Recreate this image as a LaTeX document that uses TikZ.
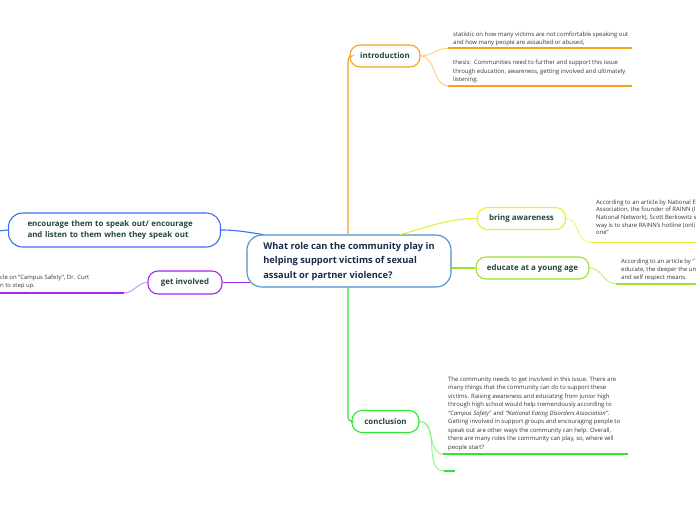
\documentclass[tikz,border=0pt]{standalone}
\usepackage{fontspec}
\setmainfont{Open Sans}
\usetikzlibrary{calc}
\definecolor{nodetxt}{HTML}{23473A}
\definecolor{ctrtxt}{HTML}{1B2A4A}
\definecolor{bodytxt}{HTML}{333333}
\definecolor{ctrblue}{HTML}{4A90D0}
\definecolor{corange}{HTML}{F5A21B}
\definecolor{corangel}{HTML}{FFCB7A}
\definecolor{cyellow}{HTML}{E6F032}
\definecolor{cyellowl}{HTML}{EFF57A}
\definecolor{cygreen}{HTML}{9BE22D}
\definecolor{cygreenl}{HTML}{BDF07A}
\definecolor{cgreen}{HTML}{2EE62E}
\definecolor{cgreenl}{HTML}{8AF28A}
\definecolor{cblue}{HTML}{3A6FF0}
\definecolor{cpurple}{HTML}{A526F0}
\definecolor{cpurplel}{HTML}{CF8AF5}
\tikzset{
  topic/.style={draw, line width=1.1pt, rounded corners=10pt, fill=white, inner sep=0pt,
    text=nodetxt, font=\fontsize{7.9}{11}\selectfont\bfseries, align=center},
  central/.style={draw=ctrblue, line width=1.1pt, rounded corners=15pt, fill=white, inner sep=0pt,
    text=ctrtxt, font=\fontsize{9.3}{14.3}\selectfont\bfseries},
  body/.style={anchor=north west, inner sep=0pt, text=bodytxt, align=left},
  bfont/.style={font=\fontsize{5.95}{#1}\selectfont},
  conn/.style={line width=1.1pt},
  subconn/.style={line width=0.9pt},
  uline/.style={line width=1.8pt},
}
\begin{document}
\begin{tikzpicture}[x=1pt,y=-1pt]
\useasboundingbox (0,0) rectangle (696,520);
\begin{scope}
\clip (0,0) rectangle (696,520);
% central
\node[central, minimum width=204pt, minimum height=52pt] (ctr) at (349,261)
  {\raisebox{-2.5pt}{\begin{tabular}{@{}l@{}}What role can the community play in\\helping support victims of sexual\\assault or partner violence?\end{tabular}}};
% topics
\node[topic, draw=corange, minimum width=70pt, minimum height=22pt] (intro) at (385,56) {introduction};
\node[topic, draw=cyellow, minimum width=88pt, minimum height=22pt] (bring) at (521.5,218.5) {bring awareness};
\node[topic, draw=cygreen, minimum width=113pt, minimum height=22pt] (edu) at (532.5,268) {educate at a young age};
\node[topic, draw=cblue, rounded corners=14pt, minimum width=212pt, minimum height=34pt, align=left, text width=174pt] (enc) at (114.5,230)
  {\raisebox{-1.8pt}{\begin{tabular}{@{}l@{}}encourage them to speak out/ encourage\\and listen to them when they speak out\end{tabular}}};
\node[topic, draw=cpurple, minimum width=74pt, minimum height=23pt] (inv) at (185,282.5) {get involved};
\node[topic, draw=cgreen, minimum width=67pt, minimum height=22pt] (concl) at (385.5,421.5) {conclusion};

% main connectors
\draw[conn, corange, rounded corners=4pt] ([xshift=-1pt]ctr.north) |- (intro.west);
\draw[conn, cgreen, rounded corners=4pt] ([xshift=-1pt]ctr.south) |- (concl.west);
\draw[conn, cyellow] ([xshift=51pt]ctr.north) to[out=14,in=180] (bring.west);
\draw[conn, cygreen] (ctr.east |- edu.west) -- (edu.west);
\draw[conn, cblue] ([xshift=-86pt]ctr.north) to[out=172,in=0] (enc.east);
\coordinate (encL) at (-2,231);
\draw[conn, cblue] (enc.west) -- (encL);
\draw[conn, cpurple] ([xshift=3.5pt]ctr.west |- inv.east) -- (inv.east);

% introduction children
\node[body, bfont=8.9] (t1) at (453,31.3) {statistic on how many victims are not comfortable speaking out\\and how many people are assaulted or abused,};
\node[body, bfont=8.7] (t2) at (453,59.7) {thesis:\ \ Communities need to further and support this issue\\through education, awareness, getting involved and ultimately\\listening.};
\coordinate (u1a) at (448,48.3); \coordinate (u1b) at (632,48.3);
\coordinate (u2a) at (448,85.7); \coordinate (u2b) at (632,85.7);
\draw[subconn, corangel] (intro.east) to[out=0,in=180] (u1a);
\draw[subconn, corangel] (intro.east) to[out=0,in=180] (u2a);
\draw[uline, corange] (u1a) -- (u1b);
\draw[uline, corange] (u2a) -- (u2b);

% bring awareness child
\node[body, bfont=7.6] (t3) at (596,199.5) {According to an article by National E\\Association, the founder of RAINN (I\\National Network), Scott Berkowitz s\\way is to share RAINN's hotline (onli\\one"};
\coordinate (u3a) at (590,242.5); \coordinate (u3b) at (700,242.5);
\draw[subconn, cyellowl] (bring.east) to[out=0,in=180] (u3a);
\draw[uline, cyellow] (u3a) -- (u3b);

% educate child
\node[body, bfont=8.1] (t4) at (621,258.7) {According to an article by "\\educate, the deeper the un\\and self respect means.};
\coordinate (u4a) at (616,284); \coordinate (u4b) at (700,284);
\draw[subconn, cygreenl] (edu.east) to[out=0,in=180] (u4a);
\draw[uline, cygreen] (u4a) -- (u4b);

% get involved child
\node[body, bfont=8] (t5) at (0,275) {cle on "Campus Safety", Dr. Curt\\n to step up.};
\coordinate (u5a) at (124,293); \coordinate (u5b) at (-4,293);
\draw[subconn, cpurplel] (inv.west) to[out=180,in=0] (u5a);
\draw[uline, cpurple] (u5a) -- (u5b);

% conclusion children
\node[body, bfont=8.55] (t6) at (448,376.3) {The community needs to get involved in this issue. There are\\many things that the community can do to support these\\victims. Raising awareness and educating from junior high\\through high school would help tremendously according to\\\textit{"Campus Safety"} and \textit{"National Eating Disorders Association"}.\\Getting involved in support groups and encouraging people to\\speak out are other ways the community can help. Overall,\\there are many roles the community can play, so, where will\\people start?};
\coordinate (u6a) at (443,454); \coordinate (u6b) at (628,454);
\coordinate (u7a) at (444,471); \coordinate (u7b) at (455,471);
\draw[subconn, cgreenl] (concl.east) to[out=0,in=180] (u6a);
\draw[subconn, cgreenl] (concl.east) to[out=0,in=180] (u7a);
\draw[uline, cgreen] (u6a) -- (u6b);
\draw[uline, cgreen] (u7a) -- (u7b);
\end{scope}
\end{tikzpicture}
\end{document}
